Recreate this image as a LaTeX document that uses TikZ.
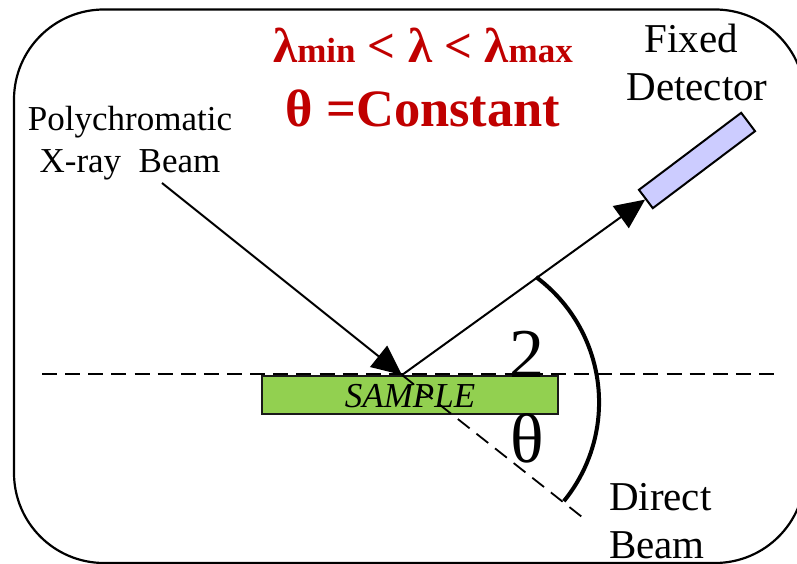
\documentclass[tikz,border=0pt]{standalone}
\usepackage{fontspec}
\setmainfont{Liberation Serif}
\usetikzlibrary{arrows.meta}
\definecolor{redtxt}{HTML}{C00000}
\definecolor{samplegreen}{HTML}{92D050}
\definecolor{detblue}{HTML}{CCCCFF}
\tikzset{
  frameline/.style={draw=black,line width=2.2pt,rounded corners=90pt},
  beamline/.style={draw=black,line width=2pt},
  beamarrow/.style={beamline,-{Triangle[length=30pt,width=27pt]},shorten >=0pt},
  dashline/.style={draw=black,line width=1.8pt,dash pattern=on 15pt off 8.13pt},
  dashlinetwo/.style={draw=black,line width=1.8pt,dash pattern=on 15pt off 8.7pt},
  anglearc/.style={draw=black,line width=4pt},
  label/.style={inner sep=0pt,outer sep=0pt,text=black},
  redlabel/.style={inner sep=0pt,outer sep=0pt,text=redtxt,font=\bfseries},
  samplebox/.style={draw=black!90,line width=2pt,fill=samplegreen,minimum width=296pt,minimum height=38pt,inner sep=0pt},
  detbox/.style={draw=black,line width=2pt,fill=detblue,minimum width=128pt,minimum height=23pt,inner sep=0pt,rotate=37}
}
\begin{document}
\begin{tikzpicture}[x=1pt,y=1pt]
\useasboundingbox (0,0) rectangle (797,564);
\clip (0,0) rectangle (797,564);
\path[frameline] (14,1) rectangle (805,554.5);

\coordinate (impact) at (402,189);
\coordinate (src) at (162,381);
\coordinate (dirEnd) at (582,47);
\coordinate (dashL) at (42,190);
\coordinate (dashR) at (775,190);
\coordinate (arcS) at (536,287);

\draw[dashline] (dashL) -- (dashR);
\node[samplebox] (sample) at (410,169) {};
\draw[dashlinetwo] (impact) -- (dirEnd);
\node[detbox] (det) at (697,403.5) {};

\draw[beamarrow] (src) -- (impact);
\draw[beamarrow] (impact) -- (det.west);
\draw[anglearc] (arcS) arc[start angle=53.4,end angle=-39.2,radius=156.2pt];

\node[label,anchor=base,font=\itshape\fontsize{35}{40}\selectfont] (sampletxt) at (410,156) {SAMPLE};
\node[label,anchor=base,font=\fontsize{70}{70}\selectfont] (two) at (527,186) {2};
\node[label,anchor=base,font=\fontsize{70}{70}\selectfont] (theta) at (527,101) {θ};

\node[label,align=center,font=\fontsize{35}{42}\selectfont] (poly) at (130,421) {Polychromatic\\X-ray\ \ Beam};
\node[label,align=center,font=\fontsize{41}{48}\selectfont] (fixed) at (697,502) {Fixed\hspace*{12pt}\\Detector};
\node[label,align=left,anchor=west,font=\fontsize{41}{48}\selectfont] (direct) at (609,43) {Direct\\Beam};
\node[redlabel,align=center] (cond) at (423,486.5) {{\fontsize{49}{64}\selectfont λ}{\fontsize{35}{64}\selectfont min}{\fontsize{49}{64}\selectfont\ <\ λ\ <\ λ}{\fontsize{35}{64}\selectfont max}\\[25pt]{\fontsize{52.5}{64}\selectfont θ =Constant}};
\end{tikzpicture}
\end{document}
